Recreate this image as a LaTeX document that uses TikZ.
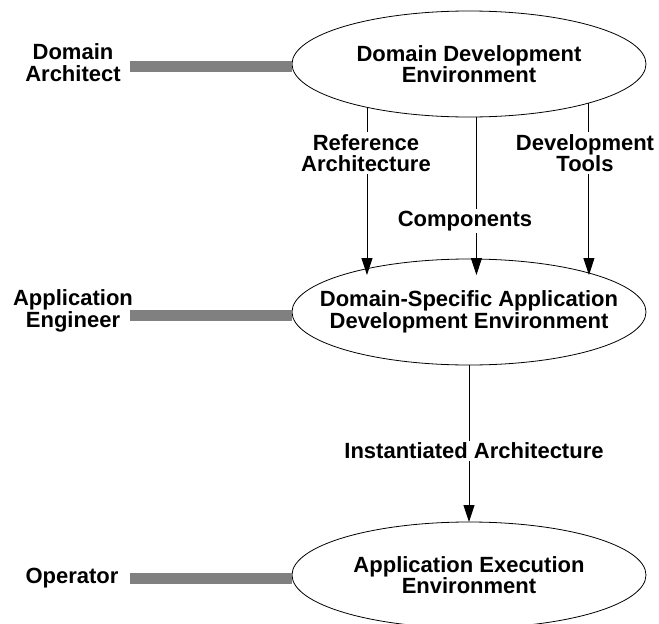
\documentclass[tikz,border=0pt]{standalone}
\usepackage{fontspec}
\setmainfont{Liberation Sans}
\usetikzlibrary{shapes.geometric,arrows.meta}

\begin{document}
\begin{tikzpicture}[x=1pt,y=-1pt,
  font=\fontsize{22}{21.5}\selectfont\bfseries,
  env/.style={ellipse, draw, line width=0.8pt, fill=white,
    minimum width=354pt, minimum height=106pt,
    inner xsep=-40pt, inner ysep=0pt,
    outer sep=0pt, align=center},
  actor/.style={align=center, inner sep=0pt},
  flowlabel/.style={align=center, fill=white, inner sep=2pt},
  arr/.style={line width=0.9pt, -{Triangle[length=17pt,width=11pt]}},
  bar/.style={line width=11pt, draw=black!50}]

\useasboundingbox (0,0) rectangle (659,624);

% environments
\node[env] (dde) at (469,64)  {Domain Development\\Environment};
\node[env] (dsa) at (469,312) {Domain-Specific Application\\Development Environment};
\node[env] (aee) at (469,575) {Application Execution\\Environment};

% roles and their links to the environments
\node[actor] (arch) at (73,62.5) {Domain\\Architect};
\node[actor] (eng)  at (73,311)  {Application\\Engineer};
\node[actor] (op)   at (72,578)  {Operator};

\coordinate (archbar) at (130,66);
\coordinate (engbar)  at (130,315);
\coordinate (opbar)   at (130,578);
\draw[bar] (archbar) -- (archbar -| dde.west);
\draw[bar] (engbar)  -- (engbar -| dsa.west);
\draw[bar] (opbar)   -- (opbar -| aee.west);

% products handed from one environment to the next
\coordinate (tips) at (469,275);
\draw[arr] (dde.-157)  -- (dde.-157 |- tips);
\draw[arr] (dde.-82.5) -- (dde.-82.5 |- tips);
\draw[arr] (dde.-18.5) -- (dde.-18.5 |- tips);
\draw[arr] (dsa) -- (aee);

\node[flowlabel] (refarch) at (366,153) {Reference\\Architecture};
\node[flowlabel] (comp)    at (465,221) {Components};
\node[flowlabel] (tools)   at (585,153) {Development\\Tools};
\node[flowlabel] (inst)    at (474,451) {Instantiated Architecture};

\end{tikzpicture}
\end{document}
